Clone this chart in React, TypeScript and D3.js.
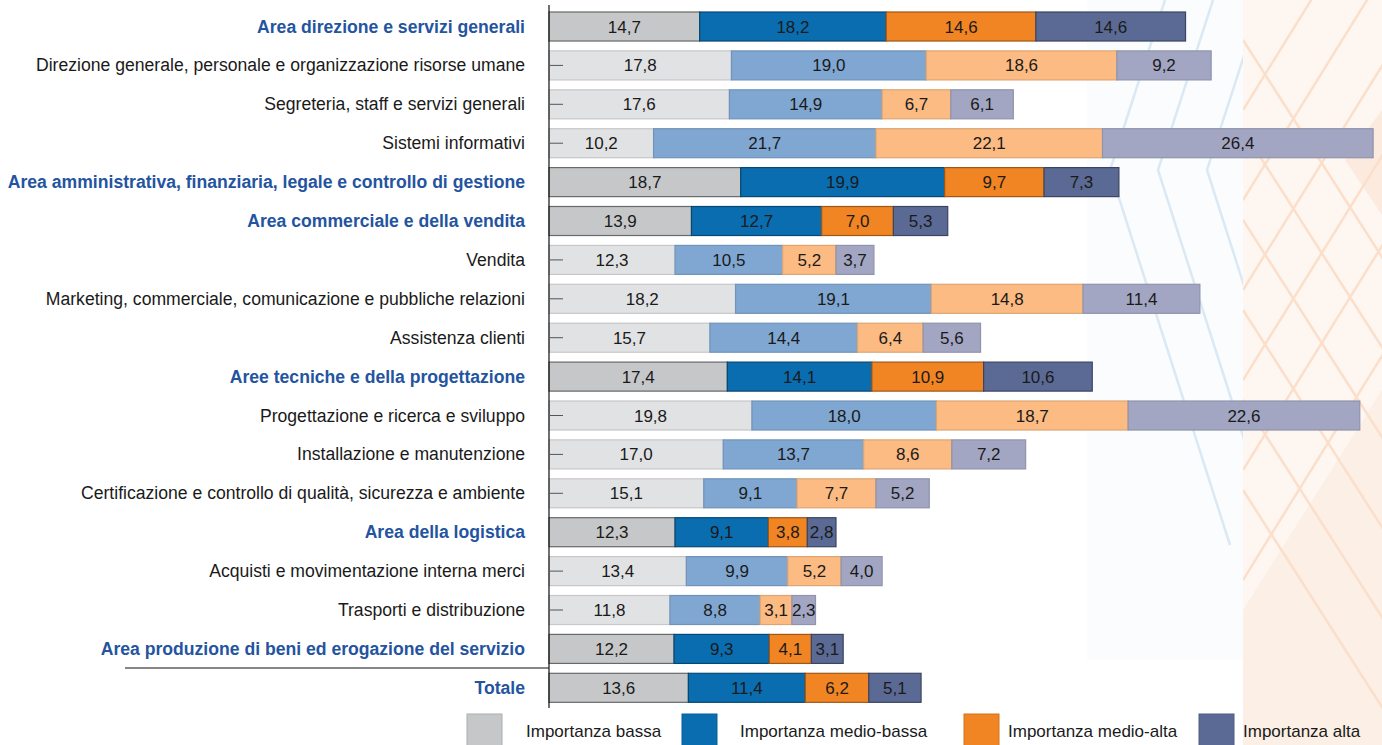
import React from "react";
import * as d3 from "d3";

const categories: string[] = [
  "Area direzione e servizi generali",
  "Direzione generale, personale e organizzazione risorse umane",
  "Segreteria, staff e servizi generali",
  "Sistemi informativi",
  "Area amministrativa, finanziaria, legale e controllo di gestione",
  "Area commerciale e della vendita",
  "Vendita",
  "Marketing, commerciale, comunicazione e pubbliche relazioni",
  "Assistenza clienti",
  "Aree tecniche e della progettazione",
  "Progettazione e ricerca e sviluppo",
  "Installazione e manutenzione",
  "Certificazione e controllo di qualità, sicurezza e ambiente",
  "Area della logistica",
  "Acquisti e movimentazione interna merci",
  "Trasporti e distribuzione",
  "Area produzione di beni ed erogazione del servizio",
  "Totale",
];

const isArea: boolean[] = [
  true, false, false, false, true, true, false, false, false,
  true, false, false, false, true, false, false, true, true,
];

const seriesNames: string[] = [
  "Importanza bassa",
  "Importanza medio-bassa",
  "Importanza medio-alta",
  "Importanza alta",
];

const bassa: number[] = [14.7, 17.8, 17.6, 10.2, 18.7, 13.9, 12.3, 18.2, 15.7, 17.4, 19.8, 17.0, 15.1, 12.3, 13.4, 11.8, 12.2, 13.6];
const medioBassa: number[] = [18.2, 19.0, 14.9, 21.7, 19.9, 12.7, 10.5, 19.1, 14.4, 14.1, 18.0, 13.7, 9.1, 9.1, 9.9, 8.8, 9.3, 11.4];
const medioAlta: number[] = [14.6, 18.6, 6.7, 22.1, 9.7, 7.0, 5.2, 14.8, 6.4, 10.9, 18.7, 8.6, 7.7, 3.8, 5.2, 3.1, 4.1, 6.2];
const alta: number[] = [14.6, 9.2, 6.1, 26.4, 7.3, 5.3, 3.7, 11.4, 5.6, 10.6, 22.6, 7.2, 5.2, 2.8, 4.0, 2.3, 3.1, 5.1];

const areaColors = ["#c6c7c9", "#0a6db0", "#f18523", "#5b6a95"];
const subColors = ["#e1e2e4", "#80a7d1", "#fbbb82", "#a3a6c2"];

const W = 1382;
const H = 745;
const FONT = "'Liberation Sans', Arial, Helvetica, sans-serif";

export default function App() {
  const series = [bassa, medioBassa, medioAlta, alta];
  const table = categories.map((c, i) => ({
    idx: i,
    name: c,
    area: isArea[i],
    v0: bassa[i],
    v1: medioBassa[i],
    v2: medioAlta[i],
    v3: alta[i],
  }));
  const stack = d3.stack<any>().keys(["v0", "v1", "v2", "v3"]);
  const stacked = stack(table);

  const x = d3.scaleLinear().domain([0, 80]).range([549, 1369]);
  const step = 38.9;
  const pad = 0.254;
  const y0 = 12 - (step * pad) / 2;
  const y = d3
    .scaleBand<number>()
    .domain(categories.map((_, i) => i))
    .range([y0, y0 + step * categories.length])
    .paddingInner(pad)
    .paddingOuter(pad / 2);
  const bh = y.bandwidth();

  const fmt = (v: number) => v.toFixed(1).replace(".", ",");

  const blueChevrons = [1110, 1158, 1207];
  const orangeA = [40, 130, 220, 310, 400, 490];
  const orangeB = [110, 200, 290, 380, 470, 580];

  const legendX = [467, 682, 964, 1199];
  const legendTextX = [526, 740, 1008, 1243];

  return (
    <svg
      width={W}
      height={H}
      style={{ position: "absolute", left: 0, top: 0, background: "#fff" }}
      fontFamily={FONT}
    >
      <defs>
        <clipPath id="clipO">
          <rect x={1243} y={0} width={139} height={745} />
        </clipPath>
        <clipPath id="clipB">
          <rect x={1000} y={0} width={243} height={660} />
        </clipPath>
      </defs>
      {/* background decoration */}
      <rect x={1087} y={0} width={156} height={660} fill="#fafcfe" />
      <rect x={1243} y={0} width={139} height={745} fill="#fdf6f1" />
      <path d="M1243,745 L1243,610 L1382,390 L1382,745 Z" fill="#fbe6d6" opacity={0.45} />
      <path d="M1382,110 L1345,160 L1382,215 Z" fill="#fbe6d6" opacity={0.7} />
      <g clipPath="url(#clipB)" stroke="#dbe9f4" strokeWidth={2.5} fill="none">
        {blueChevrons.map((vx, i) => (
          <path key={i} d={`M${vx + 55},0 L${vx},170 L${vx + 120},545`} />
        ))}
      </g>
      <g clipPath="url(#clipO)" stroke="#fbdfca" strokeWidth={2.5} fill="none">
        {orangeA.map((sy, i) => (
          <line key={"a" + i} x1={1243} y1={sy} x2={1243 + 0.64 * 400} y2={sy + 400} />
        ))}
        {orangeB.map((sy, i) => (
          <line key={"b" + i} x1={1243} y1={sy} x2={1243 + 0.62 * 400} y2={sy - 400} />
        ))}
      </g>

      {/* category labels */}
      {table.map((d) => (
        <text
          key={"l" + d.idx}
          x={525}
          y={(y(d.idx) as number) + bh / 2 + 6}
          textAnchor="end"
          fontSize={17.6}
          fontWeight={d.area ? "bold" : "normal"}
          fill={d.area ? "#2454a0" : "#1a1a1a"}
        >
          {d.name}
        </text>
      ))}

      {/* bars */}
      {stacked.map((layer, si) => (
        <g key={"s" + si}>
          {layer.map((seg, i) => {
            const area = isArea[i];
            const fill = area ? areaColors[si] : subColors[si];
            const stroke = area
              ? d3.color(fill)!.darker(si === 0 ? 1.8 : 1.2).formatHex()
              : d3.color(fill)!.darker(0.35).formatHex();
            const xs = x(seg[0]);
            const xe = x(seg[1]);
            return (
              <rect
                key={i}
                x={xs}
                y={y(i) as number}
                width={Math.max(0, xe - xs)}
                height={bh}
                fill={fill}
                stroke={stroke}
                strokeWidth={1.2}
              />
            );
          })}
        </g>
      ))}

      {/* ticks on sub rows */}
      {table
        .filter((d) => !d.area)
        .map((d) => (
          <line
            key={"t" + d.idx}
            x1={550}
            x2={563}
            y1={(y(d.idx) as number) + bh / 2}
            y2={(y(d.idx) as number) + bh / 2}
            stroke="#555"
            strokeWidth={1}
          />
        ))}

      {/* value labels */}
      {stacked.map((layer, si) => (
        <g key={"v" + si}>
          {layer.map((seg, i) => (
            <text
              key={i}
              x={(x(seg[0]) + x(seg[1])) / 2}
              y={(y(i) as number) + bh / 2 + 6}
              textAnchor="middle"
              fontSize={17}
              fill="#1a1a1a"
            >
              {fmt(series[si][i])}
            </text>
          ))}
        </g>
      ))}

      {/* axis */}
      <line x1={549} x2={549} y1={5} y2={708} stroke="#111" strokeWidth={1.2} />
      <line x1={125} x2={549} y1={668} y2={668} stroke="#111" strokeWidth={1.2} />

      {/* legend */}
      {seriesNames.map((n, i) => (
        <g key={"lg" + i}>
          <rect
            x={legendX[i]}
            y={714}
            width={35}
            height={34}
            fill={areaColors[i]}
            stroke={d3.color(areaColors[i])!.darker(0.4).formatHex()}
            strokeWidth={1}
          />
          <text x={legendTextX[i]} y={737} fontSize={17} fill="#1a1a1a">
            {n}
          </text>
        </g>
      ))}
    </svg>
  );
}
